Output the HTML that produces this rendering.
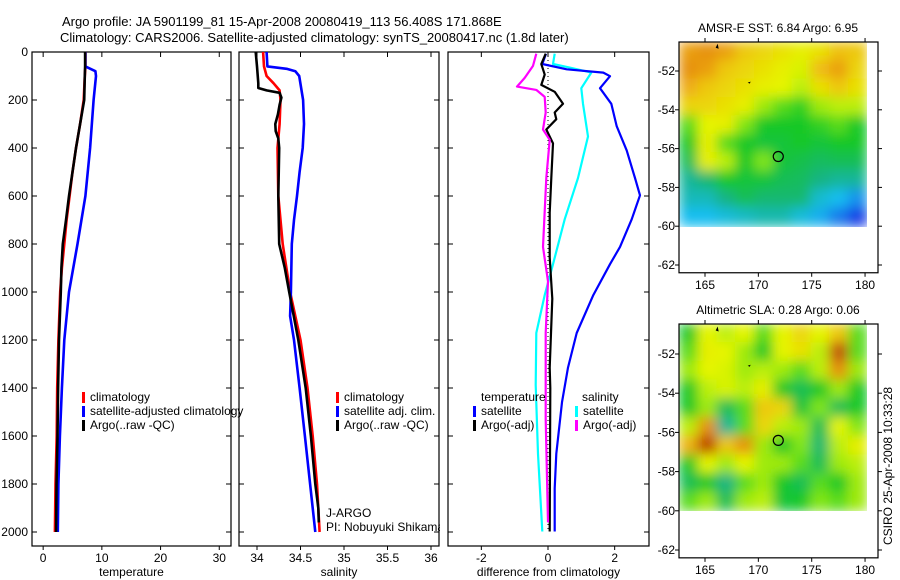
<!DOCTYPE html>
<html><head><meta charset="utf-8"><style>
body{margin:0;background:#fff;}
svg{display:block;font-family:"Liberation Sans",sans-serif;}
</style></head><body>
<svg id="fig" width="900" height="580" viewBox="0 0 900 580">
<defs>
<filter id="blur" x="0" y="0" width="100%" height="100%"><feGaussianBlur stdDeviation="6" edgeMode="duplicate"/></filter>
<clipPath id="clipA"><rect x="679" y="42" width="188" height="185"/></clipPath>
<clipPath id="clipB"><rect x="679" y="324" width="188" height="187"/></clipPath>
</defs>
<text x="62" y="26" font-size="13">Argo profile: JA 5901199_81 15-Apr-2008 20080419_113 56.408S 171.868E</text>
<text x="60" y="42" font-size="13">Climatology: CARS2006. Satellite-adjusted climatology: synTS_20080417.nc (1.8d later)</text>
<g id="g"></g>
</svg>
<script>
const tDepth=[0,60,100,200,300,400,500,600,700,800,900,1000,1200,1400,1600,1800,2000];
const tArgo=[7.15,7.15,7.1,7.0,6.3,5.6,5.0,4.4,3.9,3.35,3.1,3.0,2.7,2.55,2.45,2.27,2.2];
const tClim=[7.2,7.2,7.1,6.9,6.3,5.6,5.0,4.5,4.0,3.6,3.2,2.9,2.6,2.4,2.3,2.1,2.0];
const tSatDepth=[0,60,80,100,200,400,600,800,1000,1200,1400,1600,1800,2000];
const tSat=[7.2,7.2,8.9,9.0,8.6,8.0,7.2,5.85,4.4,3.6,3.2,2.85,2.6,2.5];
const sArgoDepth=[0,60,130,150,160,170,190,220,260,300,330,360,400,600,800,900,1000,1200,1400,1600,1800,1900,1960];
const sArgo=[33.985,34.0,34.015,34.015,34.11,34.26,34.28,34.26,34.24,34.21,34.215,34.245,34.255,34.245,34.255,34.32,34.37,34.475,34.56,34.62,34.67,34.705,34.71];
const sClimDepth=[0,60,100,130,160,200,300,400,600,800,1000,1200,1400,1600,1800,2000];
const sClim=[34.07,34.08,34.11,34.19,34.26,34.27,34.26,34.235,34.245,34.295,34.38,34.5,34.58,34.64,34.69,34.72];
const sSatDepth=[0,60,70,80,100,200,300,400,500,600,700,800,1000,1100,1200,1400,1600,1800,2000];
const sSat=[34.11,34.12,34.34,34.44,34.485,34.53,34.54,34.525,34.49,34.46,34.425,34.4,34.39,34.38,34.425,34.49,34.55,34.61,34.67];
const dTSatDepth=[7,50,72,86,101,151,216,309,410,525,597,697,812,884,1013,1171,1315,1459,1674,1818,1998];
const dTSat=[-0.06,-0.17,0.56,1.66,1.86,1.56,1.9,2.06,2.36,2.61,2.76,2.51,2.16,1.86,1.36,0.86,0.6,0.42,0.25,0.2,0.2];
const dSSatDepth=[7,50,65,86,151,216,352,525,697,884,1013,1171,1387,1674,1998];
const dSSat=[0.2,0.15,0.65,1.3,1.0,1.05,1.2,0.9,0.5,0.15,-0.1,-0.35,-0.37,-0.3,-0.17];
const dTArgoDepth=[7,50,94,137,166,216,252,280,323,381,525,669,856,1028,1315,1400,1998];
const dTArgo=[-0.07,-0.2,-0.1,-0.2,0.2,0.45,0.2,0.25,-0.05,0.15,0.1,0.05,0.05,0.13,0.05,0.07,0.05];
const dSArgoDepth=[7,58,108,144,158,187,252,323,366,525,812,956,1171,1530,1960];
const dSArgo=[-0.35,-0.45,-0.7,-0.93,-0.35,-0.1,-0.07,-0.15,0.05,-0.05,-0.15,0.0,-0.07,-0.07,0.0];
const tempTicks=[0,10,20,30];
const salTicks=[34,34.5,35,35.5,36];
const diffTicks=[-2,0,2];
const depthTicks=[0,200,400,600,800,1000,1200,1400,1600,1800,2000];
const lonTicks=[165,170,175,180];
const latTicks=[52,54,56,58,60,62];
const sstGrid=[
[0.78,0.8,0.78,0.72,0.7,0.68,0.66,0.68,0.73,0.72],
[0.8,0.78,0.72,0.7,0.68,0.66,0.64,0.74,0.78,0.7],
[0.76,0.72,0.7,0.68,0.66,0.65,0.62,0.68,0.72,0.68],
[0.7,0.7,0.68,0.66,0.6,0.55,0.52,0.6,0.62,0.62],
[0.55,0.65,0.66,0.58,0.5,0.5,0.5,0.52,0.55,0.5],
[0.5,0.66,0.55,0.5,0.48,0.48,0.5,0.48,0.5,0.5],
[0.45,0.66,0.62,0.5,0.58,0.48,0.46,0.44,0.45,0.45],
[0.38,0.42,0.5,0.48,0.48,0.45,0.44,0.4,0.38,0.38],
[0.35,0.35,0.4,0.45,0.42,0.42,0.42,0.33,0.3,0.25],
[0.3,0.3,0.32,0.34,0.36,0.36,0.32,0.28,0.22,0.15]];
const slaGrid=[
[0.5,0.65,0.62,0.65,0.55,0.65,0.7,0.65,0.72,0.55],
[0.55,0.66,0.65,0.6,0.5,0.65,0.68,0.62,0.9,0.55],
[0.6,0.65,0.64,0.6,0.62,0.6,0.55,0.62,0.8,0.6],
[0.5,0.62,0.64,0.62,0.66,0.5,0.45,0.5,0.6,0.5],
[0.5,0.6,0.45,0.55,0.72,0.7,0.48,0.58,0.45,0.5],
[0.62,0.8,0.38,0.55,0.7,0.62,0.6,0.45,0.65,0.58],
[0.75,0.92,0.72,0.8,0.6,0.5,0.58,0.42,0.62,0.66],
[0.5,0.65,0.6,0.65,0.6,0.6,0.55,0.45,0.6,0.62],
[0.45,0.5,0.4,0.55,0.6,0.5,0.45,0.55,0.5,0.6],
[0.55,0.6,0.45,0.6,0.62,0.48,0.5,0.58,0.55,0.6]];
const floatLon=171.868, floatLat=56.408;

const NS='http://www.w3.org/2000/svg';
const G=document.getElementById('g');
function mk(tag,at,parent){const e=document.createElementNS(NS,tag);for(const k in at)e.setAttribute(k,at[k]);(parent||G).appendChild(e);return e;}
const top0=52, bot0=546;
const yD=d=>top0+d*0.24;

function panel(x0,x1,vmin,vmax,ticks,label,name){
  const xs=v=>x0+(v-vmin)/(vmax-vmin)*(x1-x0);
  const f=mk('rect',{x:x0,y:top0,width:x1-x0,height:bot0-top0,fill:'none',stroke:'#000','stroke-width':1.2});
  
  
  ticks.forEach(t=>{
    const x=xs(t);
    mk('line',{x1:x,x2:x,y1:top0,y2:top0+5,stroke:'#000'});
    mk('line',{x1:x,x2:x,y1:bot0,y2:bot0+4,stroke:'#000'});
    const tx=mk('text',{x:x,y:bot0+16,'font-size':12,'text-anchor':'middle'});tx.textContent=t;
    
    
  });
  depthTicks.forEach(d=>{
    const y=yD(d);
    mk('line',{x1:x0,x2:x0+5,y1:y,y2:y,stroke:'#000'});
    mk('line',{x1:x1-5,x2:x1,y1:y,y2:y,stroke:'#000'});
  });
  const lb=mk('text',{x:(x0+x1)/2,y:576,'font-size':12,'text-anchor':'middle'});lb.textContent=label;
  
  
  return xs;
}
function line(xs,depths,vals,color,name,w){
  let d='';
  vals.forEach((v,i)=>{d+=(i?'L':'M')+xs(v).toFixed(1)+','+yD(depths[i]).toFixed(1);});
  const p=mk('path',{d:d,fill:'none',stroke:color,'stroke-width':w||2.6,'stroke-linejoin':'round'});
  
  
}
function legend(x,y,color,text,name){
  mk('rect',{x:x,y:y-9,width:3,height:11,fill:color});
  const t=mk('text',{x:x+8,y:y,'font-size':12});t.textContent=text;
  
  
}
depthTicks.forEach(d=>{const t=mk('text',{x:28,y:yD(d)+4,'font-size':12,'text-anchor':'end'});t.textContent=d;
  
  });

const xT=panel(32,231,-1.9,32,tempTicks,'temperature','temperature-panel');
line(xT,tDepth,tClim,'#f00','temp-climatology-line');
line(xT,tSatDepth,tSat,'#00f','temp-satellite-line');
line(xT,tDepth,tArgo,'#000','temp-argo-line');
legend(82,401,'#f00','climatology','legend-climatology');
legend(82,415,'#00f','satellite-adjusted climatology','legend-satellite');
legend(82,429,'#000','Argo(..raw -QC)','legend-argo');
const xS=panel(239,439,33.793,36.092,salTicks,'salinity','salinity-panel');
line(xS,sClimDepth,sClim,'#f00','sal-climatology-line');
line(xS,sSatDepth,sSat,'#00f','sal-satellite-line');
line(xS,sArgoDepth,sArgo,'#000','sal-argo-line');
legend(336,401,'#f00','climatology','legend-sal-climatology');
legend(336,415,'#00f','satellite adj. clim.','legend-sal-satellite');
legend(336,429,'#000','Argo(..raw -QC)','legend-sal-argo');
const j1=mk('text',{x:326,y:517,'font-size':12});j1.textContent='J-ARGO';


const j2=mk('text',{x:326,y:531,'font-size':12});j2.textContent='PI: Nobuyuki Shikama';


mk('rect',{x:440,y:500,width:8,height:40,fill:'#fff'});
const xD=panel(448,649,-3.0,3.03,diffTicks,'difference from climatology','difference-panel');
mk('line',{x1:xD(0),x2:xD(0),y1:top0,y2:yD(2000),stroke:'#000','stroke-dasharray':'1,3','stroke-width':1});
line(xD,dSSatDepth,dSSat,'#0ff','diff-sal-satellite-line',2.2);
line(xD,dTSatDepth,dTSat,'#00f','diff-temp-satellite-line',2.2);
line(xD,dTArgoDepth,dTArgo,'#000','diff-temp-argo-line',2.2);
line(xD,dSArgoDepth,dSArgo,'#f0f','diff-sal-argo-line',2.2);
const lt=mk('text',{x:481,y:401,'font-size':12});lt.textContent='temperature';


const ls=mk('text',{x:582,y:401,'font-size':12});ls.textContent='salinity';


legend(473,415,'#00f','satellite','legend-diff-temp-satellite');
legend(473,429,'#000','Argo(-adj)','legend-diff-temp-argo');
legend(575,415,'#0ff','satellite','legend-diff-sal-satellite');
legend(575,429,'#f0f','Argo(-adj)','legend-diff-sal-argo');

const cstops=[[0,[0,0,160]],[0.15,[20,60,230]],[0.3,[20,190,240]],[0.4,[20,180,130]],[0.5,[20,200,40]],[0.58,[130,230,20]],[0.65,[230,245,0]],[0.75,[240,180,20]],[0.85,[220,110,10]],[1,[150,0,0]]];
function cmap(v){
  v=Math.max(0,Math.min(1,v));
  for(let i=1;i<cstops.length;i++){
    if(v<=cstops[i][0]){
      const a=cstops[i-1],b=cstops[i],t=(v-a[0])/(b[0]-a[0]);
      const c=a[1].map((x,k)=>Math.round(x+(b[1][k]-x)*t));
      return `rgb(${c[0]},${c[1]},${c[2]})`;
    }
  }
  return 'rgb(150,0,0)';
}
function map(top,lat52y,perDeg,grid,clip,title,name){
  const lx=lon=>705+(lon-165)*10.67;
  const ly=lat=>lat52y+(lat-52)*perDeg;
  const x0=679,x1=878,bot=ly(62.4);
  const t=mk('text',{x:778,y:top-10,'font-size':12,'text-anchor':'middle'});t.textContent=title;
  
  
  const gc=mk('g',{'clip-path':`url(#${clip})`});
  const gb=mk('g',{filter:'url(#blur)'},gc);
  const dx0=lx(162.6),dx1=lx(180.2),dy0=top,dy1=ly(60);
  const cw=(dx1-dx0)/grid[0].length,ch=(dy1-dy0)/grid.length;
  grid.forEach((row,r)=>row.forEach((v,c)=>{
    const cell=mk('rect',{x:dx0+c*cw-0.5,y:dy0+r*ch-0.5,width:cw+1,height:ch+1,fill:cmap(v)},gb);
    
    
  }));
  mk('path',{d:`M${lx(166)},${ly(50.8)}l2,-4l1,5z`,fill:'#000'},gc);
  mk('path',{d:`M${lx(169)},${ly(52.6)}l3,-1l-1,2z`,fill:'#000'},gc);
  const f=mk('rect',{x:x0,y:top,width:x1-x0,height:bot-top,fill:'none',stroke:'#000','stroke-width':1.2});
  
  
  latTicks.forEach(l=>{
    const y=ly(l);
    mk('line',{x1:x0-4,x2:x0,y1:y,y2:y,stroke:'#000'});
    mk('line',{x1:x1,x2:x1+4,y1:y,y2:y,stroke:'#000'});
    const tl=mk('text',{x:675,y:y+4,'font-size':12,'text-anchor':'end'});tl.textContent='-'+l;
    
    
  });
  lonTicks.forEach(l=>{
    const x=lx(l);
    mk('line',{x1:x,x2:x,y1:top-4,y2:top,stroke:'#000'});
    mk('line',{x1:x,x2:x,y1:bot,y2:bot+4,stroke:'#000'});
    const tl=mk('text',{x:x,y:bot+16,'font-size':12,'text-anchor':'middle'});tl.textContent=l;
    
    
  });
  const m=mk('circle',{cx:lx(floatLon),cy:ly(floatLat),r:5,fill:'none',stroke:'#000','stroke-width':1.2});
  
  
}
map(42,71,19.4,sstGrid,'clipA','AMSR-E SST: 6.84 Argo: 6.95','sst-map');
map(324,354,19.6,slaGrid,'clipB','Altimetric SLA: 0.28 Argo: 0.06','sla-map');
const cs=mk('text',{x:0,y:0,'font-size':12,transform:'translate(892,545) rotate(-90)'});cs.textContent='CSIRO 25-Apr-2008 10:33:28';


</script>
</body></html>
